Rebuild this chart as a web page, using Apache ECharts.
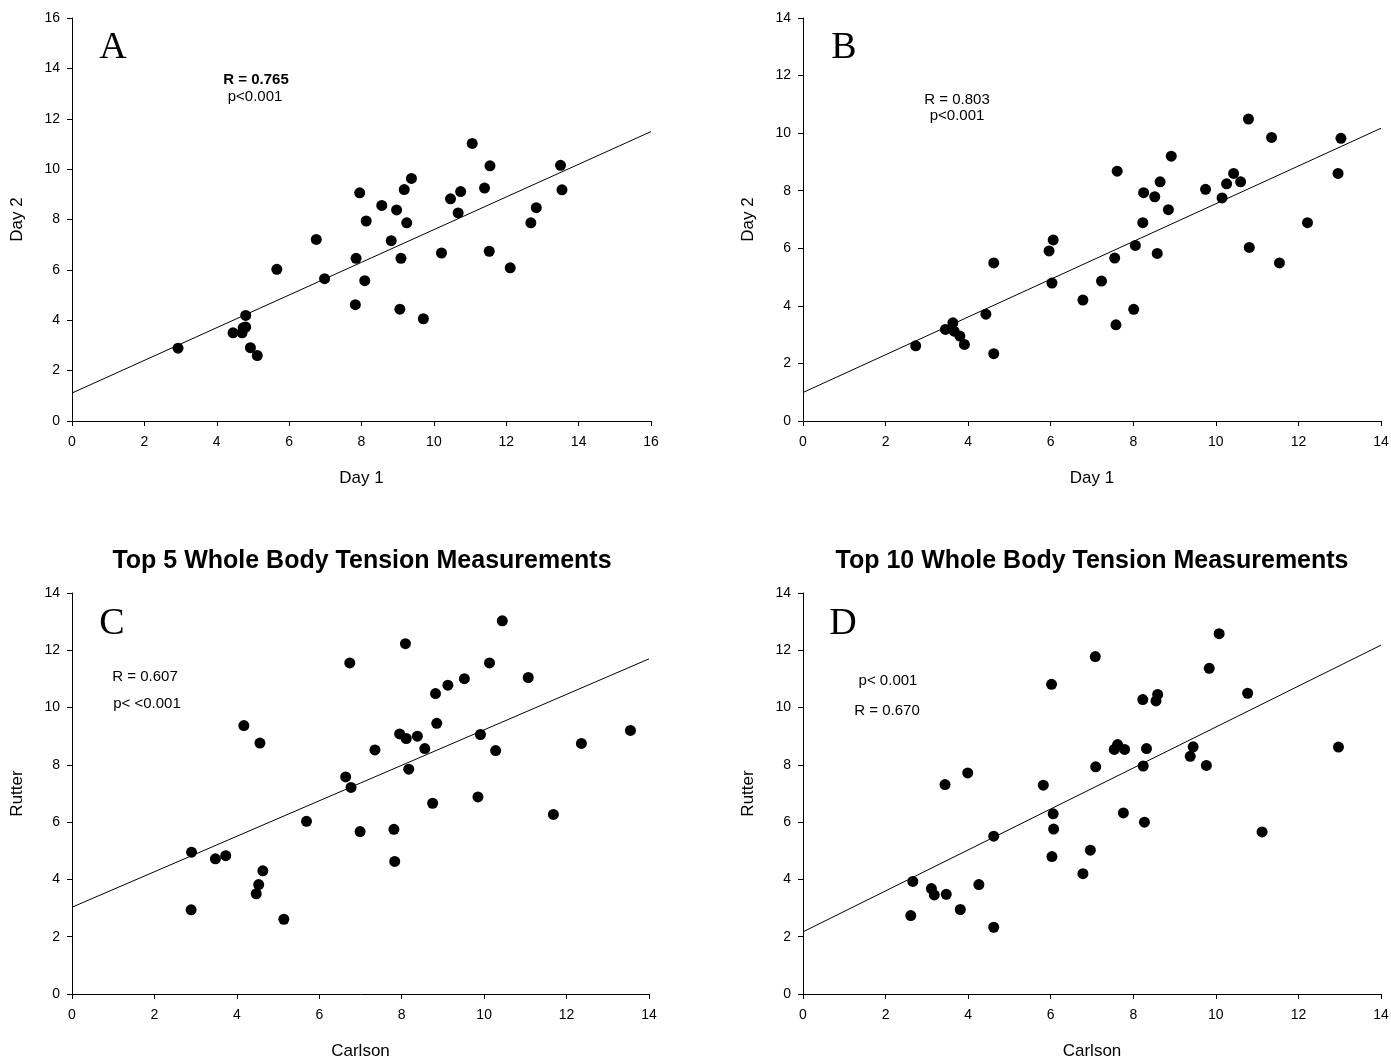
<!DOCTYPE html>
<html>
<head>
<meta charset="utf-8">
<script src="https://cdn.jsdelivr.net/npm/echarts@6/dist/echarts.min.js"></script>
<style>
  html, body { margin: 0; padding: 0; background: #fff; }
  #chart { width: 1391px; height: 1058px; }
</style>
</head>
<body>
<div id="chart"></div>
<script>
  // A: Day 1 vs Day 2
  var aDay1 = [2.93, 4.45, 4.70, 4.73, 4.80, 4.80, 4.93, 5.12, 5.66, 6.75, 6.98, 7.83, 7.85, 7.95, 8.09, 8.13, 8.56, 8.82, 8.97,
    9.09, 9.06, 9.18, 9.25, 9.38, 9.71, 10.21, 10.46, 10.67, 10.74, 11.06, 11.40, 11.53, 11.55, 12.11, 12.68, 12.83, 13.50, 13.54];
  var aDay2 = [2.89, 3.50, 3.50, 3.70, 3.73, 4.19, 2.91, 2.60, 6.02, 7.21, 5.65, 4.62, 6.46, 9.06, 5.57, 7.94, 8.56, 7.16, 8.38,
    6.46, 4.44, 9.19, 7.87, 9.63, 4.06, 6.67, 8.82, 8.26, 9.11, 11.02, 9.25, 6.74, 10.13, 6.08, 7.87, 8.47, 10.15, 9.18];
  var aFitX = [0, 16];
  var aFitY = [1.11, 11.49];

  // B: Day 1 vs Day 2
  var bDay1 = [2.73, 3.45, 3.63, 3.66, 3.80, 3.91, 4.43, 4.62, 4.62, 5.96, 6.06, 6.03, 6.78, 7.23, 7.55, 7.58, 7.61, 8.01, 8.05,
    8.23, 8.25, 8.52, 8.58, 8.65, 8.85, 8.92, 9.75, 10.15, 10.26, 10.43, 10.60, 10.79, 10.81, 11.35, 11.54, 12.22, 12.96, 13.03];
  var bDay2 = [2.61, 3.18, 3.41, 3.12, 2.95, 2.66, 3.71, 2.34, 5.49, 5.91, 6.29, 4.79, 4.20, 4.86, 5.66, 3.34, 8.68, 3.88, 6.10,
    6.89, 7.93, 7.79, 5.82, 8.31, 7.34, 9.20, 8.05, 7.75, 8.24, 8.60, 8.31, 10.49, 6.03, 9.85, 5.49, 6.89, 8.60, 9.82];
  var bFitX = [0, 14];
  var bFitY = [0.99, 10.17];

  // C: Top 5, Carlson vs Rutter
  var cCarlson = [2.89, 2.90, 3.48, 3.73, 4.17, 4.47, 4.53, 4.56, 4.63, 5.14, 5.69, 6.64, 6.74, 6.77, 6.99, 7.35, 7.81, 7.83, 7.95,
    8.09, 8.11, 8.17, 8.38, 8.56, 8.75, 8.82, 8.85, 9.12, 9.52, 9.85, 9.91, 10.13, 10.28, 10.44, 11.07, 11.68, 12.36, 13.55];
  var cRutter = [2.94, 4.95, 4.72, 4.83, 9.37, 3.50, 3.82, 8.76, 4.30, 2.61, 6.03, 7.58, 11.56, 7.21, 5.67, 8.52, 5.75, 4.63, 9.08,
    12.23, 8.92, 7.85, 9.00, 8.57, 6.66, 10.49, 9.45, 10.78, 11.01, 6.88, 9.06, 11.56, 8.50, 13.03, 11.05, 6.27, 8.75, 9.20];
  var cFitX = [0, 14];
  var cFitY = [3.03, 11.70];

  // D: Top 10, Carlson vs Rutter
  var dCarlson = [2.61, 2.66, 3.11, 3.18, 3.44, 3.47, 3.81, 3.99, 4.26, 4.62, 4.62, 5.82, 6.02, 6.03, 6.06, 6.07, 6.78, 6.96, 7.08,
    7.09, 7.54, 7.62, 7.76, 7.79, 8.23, 8.24, 8.27, 8.32, 8.55, 8.59, 9.38, 9.45, 9.77, 9.84, 10.08, 10.77, 11.12, 12.97];
  var dRutter = [2.74, 3.93, 3.68, 3.46, 7.31, 3.48, 2.95, 7.72, 3.82, 5.51, 2.33, 7.29, 10.81, 4.80, 6.29, 5.76, 4.20, 5.02, 11.78,
    7.93, 8.54, 8.71, 6.32, 8.54, 10.28, 7.96, 6.00, 8.57, 10.23, 10.46, 8.30, 8.63, 7.98, 11.37, 12.58, 10.50, 5.66, 8.62];
  var dFitX = [0, 14];
  var dFitY = [2.17, 12.18];

  function pairs(xs, ys) {
    return xs.map(function (x, i) { return [x, ys[i]]; });
  }

  var chart = echarts.init(document.getElementById('chart'));

  var grids = [
    {left: 72, top: 18, width: 579, height: 403},
    {left: 803, top: 18, width: 578, height: 403},
    {left: 72, top: 593, width: 577, height: 401},
    {left: 803, top: 593, width: 578, height: 401}
  ];

  var xNames = ['Day 1', 'Day 1', 'Carlson', 'Carlson'];
  var yNames = ['Day 2', 'Day 2', 'Rutter', 'Rutter'];
  var xMax = [16, 14, 14, 14];
  var yMax = [16, 14, 14, 14];

  function xAxis(i) {
    return {
      gridIndex: i, type: 'value', min: 0, max: xMax[i], interval: 2,
      name: xNames[i], nameLocation: 'middle', nameGap: 49,
      nameTextStyle: {fontFamily: 'Liberation Sans', fontSize: 17, color: '#000'},
      splitLine: {show: false},
      axisLine: {lineStyle: {color: '#000', width: 1}},
      axisTick: {length: 5, lineStyle: {color: '#000'}},
      axisLabel: {fontFamily: 'Liberation Sans', fontSize: 14, color: '#000', margin: 14}
    };
  }

  function yAxis(i) {
    return {
      gridIndex: i, type: 'value', min: 0, max: yMax[i], interval: 2,
      name: yNames[i], nameLocation: 'middle', nameGap: 46,
      nameTextStyle: {fontFamily: 'Liberation Sans', fontSize: 17, color: '#000'},
      splitLine: {show: false},
      axisLine: {show: true, lineStyle: {color: '#000', width: 1}},
      axisTick: {show: true, length: 5, lineStyle: {color: '#000'}},
      axisLabel: {fontFamily: 'Liberation Sans', fontSize: 14, color: '#000', margin: 12}
    };
  }

  var pointSets = [pairs(aDay1, aDay2), pairs(bDay1, bDay2), pairs(cCarlson, cRutter), pairs(dCarlson, dRutter)];
  var fitSets = [pairs(aFitX, aFitY), pairs(bFitX, bFitY), pairs(cFitX, cFitY), pairs(dFitX, dFitY)];

  var series = [];
  for (var i = 0; i < 4; i++) {
    // regression line
    series.push({
      type: 'line', xAxisIndex: i, yAxisIndex: i, data: fitSets[i],
      symbol: 'none', lineStyle: {color: '#000', width: 1}, silent: true, z: 1
    });
    series.push({
      type: 'scatter', xAxisIndex: i, yAxisIndex: i, data: pointSets[i],
      symbolSize: 11, itemStyle: {color: '#000', opacity: 1}, z: 2
    });
  }

  function txt(x, y, text, size, family, weight) {
    return {
      type: 'text', x: x, y: y,
      style: {
        text: text, fontSize: size, fontFamily: family, fontWeight: weight || 'normal',
        fill: '#000', align: 'center', verticalAlign: 'middle'
      }
    };
  }

  var serif = 'Liberation Serif';
  var sans = 'Liberation Sans';

  var option = {
    backgroundColor: '#fff',
    animation: false,
    grid: grids.map(function (g) { return Object.assign({outerBoundsMode: 'none'}, g); }),
    xAxis: [0, 1, 2, 3].map(xAxis),
    yAxis: [0, 1, 2, 3].map(yAxis),
    series: series,
    graphic: [
      txt(113, 48, 'A', 38, serif),
      txt(844, 48, 'B', 38, serif),
      txt(112, 624, 'C', 38, serif),
      txt(843, 624, 'D', 38, serif),
      txt(256, 80, 'R = 0.765', 15, sans, 'bold'),
      txt(255, 97, 'p<0.001', 15, sans),
      txt(957, 100, 'R = 0.803', 15, sans),
      txt(957, 116, 'p<0.001', 15, sans),
      txt(145, 677, 'R = 0.607', 15, sans),
      txt(147, 704, 'p< <0.001', 15, sans),
      txt(888, 681, 'p< 0.001', 15, sans),
      txt(887, 711, 'R = 0.670', 15, sans),
      txt(362, 561, 'Top 5 Whole Body Tension Measurements', 25, sans, 'bold'),
      txt(1092, 561, 'Top 10 Whole Body Tension Measurements', 25, sans, 'bold')
    ]
  };

  chart.setOption(option);
</script>
</body>
</html>
